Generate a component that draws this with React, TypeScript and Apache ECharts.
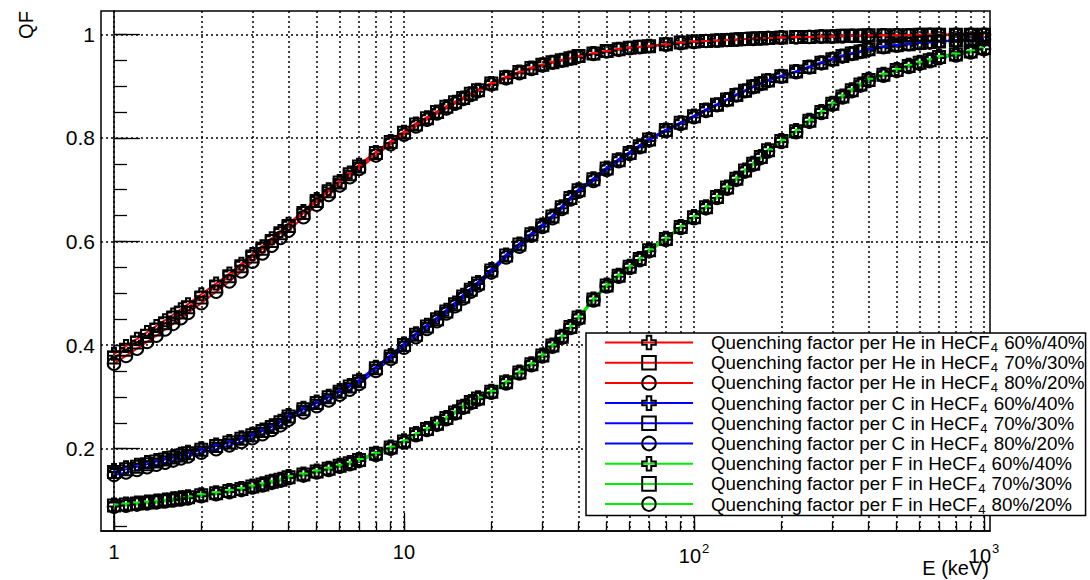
import React, { useEffect, useRef } from "react";
import * as echarts from "echarts";

// Energies (keV) of the plotted points
const energies = [
  1, 1.1, 1.2, 1.3, 1.4, 1.5, 1.6, 1.7, 1.8, 2, 2.25, 2.5, 2.75, 3, 3.25, 3.5, 3.75, 4, 4.5, 5, 5.5, 6, 6.5, 7, 8, 9,
  10, 11, 12, 13, 14, 15, 16, 17, 18, 20, 22.5, 25, 27.5, 30, 32.5, 35, 37.5, 40, 45, 50, 55, 60, 65, 70, 80, 90,
  100, 110, 120, 130, 140, 150, 160, 170, 180, 200, 225, 250, 275, 300, 325, 350, 375, 400, 450, 500, 550, 600, 650, 700, 800, 900, 1000,
];

const heQF6040 = [
  0.383, 0.398, 0.412, 0.425, 0.437, 0.448, 0.459, 0.469, 0.479, 0.498, 0.519, 0.538, 0.557, 0.576, 0.591, 0.606, 0.62, 0.634, 0.659, 0.682, 0.701, 0.717, 0.733, 0.748, 0.773, 0.794,
  0.812, 0.828, 0.84, 0.851, 0.861, 0.87, 0.878, 0.886, 0.893, 0.906, 0.918, 0.928, 0.936, 0.942, 0.947, 0.951, 0.955, 0.958, 0.964, 0.968, 0.972, 0.974, 0.976, 0.978, 0.981, 0.984,
  0.986, 0.987, 0.988, 0.989, 0.99, 0.991, 0.992, 0.993, 0.993, 0.994, 0.995, 0.995, 0.996, 0.996, 0.997, 0.997, 0.997, 0.998, 0.998, 0.998, 0.998, 0.999, 0.999, 0.999, 0.999, 0.999, 0.999,
];
const heQF7030 = [
  0.376, 0.391, 0.405, 0.418, 0.43, 0.442, 0.453, 0.463, 0.473, 0.492, 0.513, 0.533, 0.552, 0.571, 0.586, 0.601, 0.616, 0.63, 0.655, 0.678, 0.697, 0.714, 0.73, 0.745, 0.771, 0.792,
  0.81, 0.826, 0.838, 0.85, 0.86, 0.869, 0.877, 0.885, 0.892, 0.905, 0.917, 0.927, 0.935, 0.941, 0.946, 0.95, 0.954, 0.958, 0.963, 0.968, 0.971, 0.974, 0.976, 0.977, 0.981, 0.984,
  0.986, 0.987, 0.988, 0.989, 0.99, 0.991, 0.992, 0.992, 0.993, 0.994, 0.995, 0.995, 0.996, 0.996, 0.997, 0.997, 0.997, 0.998, 0.998, 0.998, 0.998, 0.999, 0.999, 0.999, 0.999, 0.999, 0.999,
];
const heQF8020 = [
  0.364, 0.379, 0.393, 0.406, 0.418, 0.43, 0.441, 0.452, 0.462, 0.481, 0.503, 0.523, 0.542, 0.561, 0.577, 0.592, 0.607, 0.621, 0.647, 0.671, 0.69, 0.708, 0.724, 0.74, 0.766, 0.788,
  0.806, 0.822, 0.835, 0.847, 0.857, 0.866, 0.875, 0.883, 0.89, 0.903, 0.915, 0.925, 0.933, 0.94, 0.945, 0.949, 0.953, 0.957, 0.962, 0.967, 0.97, 0.973, 0.975, 0.977, 0.98, 0.983,
  0.985, 0.987, 0.988, 0.989, 0.99, 0.991, 0.991, 0.992, 0.993, 0.994, 0.994, 0.995, 0.996, 0.996, 0.996, 0.997, 0.997, 0.997, 0.998, 0.998, 0.998, 0.998, 0.999, 0.999, 0.999, 0.999, 0.999,
];

const cQF6040 = [
  0.159, 0.164, 0.169, 0.174, 0.178, 0.182, 0.186, 0.19, 0.194, 0.201, 0.208, 0.215, 0.222, 0.229, 0.237, 0.245, 0.254, 0.265, 0.279, 0.291, 0.302, 0.313, 0.323, 0.333, 0.358, 0.381,
  0.403, 0.423, 0.439, 0.453, 0.468, 0.482, 0.497, 0.51, 0.522, 0.547, 0.575, 0.596, 0.616, 0.633, 0.65, 0.668, 0.686, 0.701, 0.722, 0.743, 0.759, 0.773, 0.786, 0.798, 0.816, 0.83,
  0.843, 0.855, 0.865, 0.875, 0.884, 0.892, 0.9, 0.906, 0.912, 0.92, 0.929, 0.938, 0.946, 0.953, 0.959, 0.964, 0.968, 0.972, 0.977, 0.98, 0.982, 0.984, 0.985, 0.987, 0.988, 0.99, 0.991,
];
const cQF7030 = [
  0.155, 0.16, 0.165, 0.17, 0.175, 0.179, 0.183, 0.187, 0.191, 0.198, 0.205, 0.212, 0.219, 0.226, 0.234, 0.242, 0.251, 0.262, 0.276, 0.288, 0.299, 0.31, 0.32, 0.33, 0.355, 0.378,
  0.4, 0.42, 0.436, 0.45, 0.465, 0.479, 0.494, 0.507, 0.519, 0.544, 0.573, 0.594, 0.614, 0.631, 0.648, 0.666, 0.684, 0.699, 0.72, 0.741, 0.757, 0.771, 0.784, 0.797, 0.815, 0.829,
  0.842, 0.854, 0.864, 0.874, 0.883, 0.891, 0.899, 0.905, 0.911, 0.919, 0.928, 0.937, 0.945, 0.952, 0.958, 0.963, 0.967, 0.971, 0.976, 0.979, 0.981, 0.983, 0.985, 0.986, 0.988, 0.989, 0.991,
];
const cQF8020 = [
  0.149, 0.154, 0.159, 0.164, 0.169, 0.173, 0.177, 0.181, 0.185, 0.192, 0.199, 0.206, 0.213, 0.22, 0.228, 0.236, 0.245, 0.256, 0.27, 0.282, 0.293, 0.304, 0.314, 0.325, 0.35, 0.373,
  0.395, 0.415, 0.431, 0.446, 0.461, 0.475, 0.49, 0.503, 0.515, 0.54, 0.569, 0.59, 0.611, 0.628, 0.645, 0.663, 0.681, 0.696, 0.717, 0.738, 0.755, 0.769, 0.782, 0.795, 0.813, 0.827,
  0.84, 0.852, 0.863, 0.873, 0.882, 0.89, 0.898, 0.904, 0.91, 0.918, 0.927, 0.936, 0.944, 0.951, 0.957, 0.962, 0.966, 0.97, 0.975, 0.978, 0.981, 0.983, 0.984, 0.986, 0.988, 0.989, 0.99,
];

const fQF6040 = [
  0.092, 0.094, 0.096, 0.098, 0.1, 0.102, 0.104, 0.106, 0.108, 0.112, 0.116, 0.12, 0.124, 0.129, 0.133, 0.138, 0.142, 0.147, 0.152, 0.158, 0.163, 0.169, 0.174, 0.18, 0.192, 0.204,
  0.216, 0.23, 0.24, 0.25, 0.261, 0.272, 0.283, 0.292, 0.299, 0.312, 0.33, 0.349, 0.365, 0.382, 0.401, 0.418, 0.437, 0.455, 0.49, 0.517, 0.536, 0.553, 0.568, 0.585, 0.607, 0.63,
  0.649, 0.668, 0.688, 0.706, 0.723, 0.739, 0.752, 0.765, 0.778, 0.796, 0.815, 0.835, 0.852, 0.868, 0.882, 0.894, 0.905, 0.914, 0.924, 0.933, 0.941, 0.947, 0.952, 0.958, 0.963, 0.969, 0.975,
];
const fQF7030 = [
  0.09, 0.092, 0.094, 0.096, 0.098, 0.1, 0.102, 0.104, 0.106, 0.11, 0.114, 0.118, 0.122, 0.127, 0.131, 0.136, 0.14, 0.145, 0.15, 0.156, 0.161, 0.167, 0.172, 0.178, 0.19, 0.202,
  0.214, 0.228, 0.238, 0.248, 0.259, 0.27, 0.281, 0.29, 0.297, 0.31, 0.328, 0.347, 0.363, 0.38, 0.399, 0.416, 0.435, 0.453, 0.488, 0.515, 0.534, 0.551, 0.566, 0.583, 0.605, 0.628,
  0.647, 0.666, 0.686, 0.704, 0.721, 0.737, 0.75, 0.763, 0.776, 0.794, 0.813, 0.833, 0.85, 0.866, 0.88, 0.892, 0.903, 0.912, 0.922, 0.931, 0.939, 0.945, 0.95, 0.956, 0.961, 0.967, 0.973,
];
const fQF8020 = [
  0.088, 0.09, 0.092, 0.094, 0.096, 0.098, 0.1, 0.102, 0.104, 0.108, 0.112, 0.116, 0.12, 0.125, 0.129, 0.134, 0.138, 0.143, 0.148, 0.154, 0.159, 0.165, 0.17, 0.176, 0.188, 0.2,
  0.212, 0.226, 0.236, 0.246, 0.257, 0.268, 0.279, 0.288, 0.295, 0.308, 0.326, 0.345, 0.361, 0.378, 0.397, 0.414, 0.433, 0.451, 0.486, 0.513, 0.532, 0.549, 0.564, 0.581, 0.603, 0.626,
  0.645, 0.664, 0.684, 0.702, 0.719, 0.735, 0.748, 0.761, 0.774, 0.792, 0.811, 0.831, 0.848, 0.864, 0.878, 0.89, 0.901, 0.91, 0.92, 0.929, 0.937, 0.943, 0.948, 0.954, 0.959, 0.965, 0.971,
];

// Axis ticks
const xMajorTicksE = [1, 10, 100, 1000];
const xMinorTicksE = [2, 3, 4, 5, 6, 7, 8, 9, 20, 30, 40, 50, 60, 70, 80, 90, 200, 300, 400, 500, 600, 700, 800, 900];
const xTickLabels = ["1", "10", "{b|10}{s|2}", "{b|10}{s|3}"];
const yMajorTicks = [0.2, 0.4, 0.6, 0.8, 1.0];
const yMinorTicks = [0.05, 0.1, 0.15, 0.2, 0.25, 0.3, 0.35, 0.4, 0.45, 0.5, 0.55, 0.6, 0.65, 0.7, 0.75, 0.8, 0.85, 0.9, 0.95, 1.0];

const mixtures = ["60%/40%", "70%/30%", "80%/20%"];
const elements = ["He", "C", "F"];
const elementColors = ["#ff0000", "#0000ff", "#00ee00"];
const valueTable = [
  [heQF6040, heQF7030, heQF8020],
  [cQF6040, cQF7030, cQF8020],
  [fQF6040, fQF7030, fQF8020],
];

const CROSS = "path://M4,0L8,0L8,4L12,4L12,8L8,8L8,12L4,12L4,8L0,8L0,4L4,4Z";
const symbols = [CROSS, "rect", "circle"];
const FONT = '"Liberation Sans", Arial, Helvetica, sans-serif';

export default function App() {
  const ref = useRef<HTMLDivElement>(null);

  useEffect(() => {
    document.body.style.margin = "0";
    const chart = echarts.init(ref.current as HTMLDivElement, null, { renderer: "svg" });

    const series: any[] = [];
    const names: string[] = [];
    elements.forEach((el, ei) => {
      mixtures.forEach((mx, mi) => {
        const name = `Quenching factor per ${el} in HeCF4 ${mx}`;
        names.push(name);
        const vals = valueTable[ei][mi];
        series.push({
          type: "line",
          name,
          xAxisIndex: 0,
          yAxisIndex: 0,
          data: energies.map((e, i) => [Math.log10(e), vals[i]]),
          symbol: symbols[mi],
          symbolSize: mi === 2 ? 12.5 : 12,
          showSymbol: true,
          lineStyle: { color: elementColors[ei], width: 2 },
          itemStyle: { color: "rgba(0,0,0,0)", borderColor: "#000", borderWidth: 2 },
          emphasis: { disabled: true },
          silent: true,
          z: 3,
        });
      });
    });

    const logMin = -0.0448;
    const logMax = 3.0207;
    const xMajor = xMajorTicksE.map((e) => Math.log10(e));
    const xAll = xMajorTicksE.concat(xMinorTicksE).map((e) => Math.log10(e));
    const gridLine = { color: "#000", width: 1.5, type: [2, 3] };

    const option: any = {
      animation: false,
      textStyle: { fontFamily: FONT },
      grid: {
        left: 101,
        top: 11,
        right: 100,
        bottom: 49,
        show: true,
        borderColor: "#000",
        borderWidth: 1.5,
        backgroundColor: "transparent",
        containLabel: false,
      },
      xAxis: [
        {
          type: "value",
          min: logMin,
          max: logMax,
          position: "bottom",
          axisLine: { show: true, lineStyle: { color: "#000", width: 1.5 } },
          axisTick: { show: true, inside: true, length: 18, customValues: xMajor, lineStyle: { color: "#000", width: 1.3 } },
          axisLabel: {
            show: true,
            customValues: xMajor,
            margin: 11,
            color: "#000",
            fontSize: 20,
            fontFamily: FONT,
            formatter: (v: number) => xTickLabels[Math.round(v)],
            rich: {
              b: { fontSize: 20, fontFamily: FONT, color: "#000" },
              s: { fontSize: 13, fontFamily: FONT, color: "#000", padding: [0, 0, 14, 1] },
            },
          },
          splitLine: { show: false },
        },
        {
          type: "value",
          min: logMin,
          max: logMax,
          position: "bottom",
          axisLine: { show: false },
          axisTick: { show: true, inside: true, length: 9, customValues: xAll, lineStyle: { color: "#000", width: 1.3 } },
          axisLabel: { show: false },
          splitLine: { show: true, lineStyle: gridLine },
        },
      ],
      yAxis: [
        {
          type: "value",
          min: 0.041,
          max: 1.045,
          position: "left",
          axisLine: { show: true, lineStyle: { color: "#000", width: 1.5 } },
          axisTick: { show: true, inside: true, length: 26, customValues: yMajorTicks, lineStyle: { color: "#000", width: 1.3 } },
          axisLabel: {
            show: true,
            customValues: yMajorTicks,
            margin: 6,
            color: "#000",
            fontSize: 21,
            fontFamily: FONT,
            formatter: (v: number) => String(Math.round(v * 10) / 10),
          },
          splitLine: { show: true, lineStyle: gridLine },
        },
        {
          type: "value",
          min: 0.041,
          max: 1.045,
          position: "left",
          axisLine: { show: false },
          axisTick: { show: true, inside: true, length: 13, customValues: yMinorTicks, lineStyle: { color: "#000", width: 1.3 } },
          axisLabel: { show: false },
          splitLine: { show: false },
        },
      ],
      legend: {
        data: names,
        orient: "vertical",
        left: 586,
        top: 333,
        padding: [0, 1, 0, 18],
        itemWidth: 88,
        itemHeight: 17,
        itemGap: -0.8,
        backgroundColor: "#fff",
        borderColor: "#000",
        borderWidth: 1.5,
        borderRadius: 0,
        selectedMode: false,
        textStyle: {
          color: "#000",
          fontSize: 18.8,
          fontFamily: FONT,
          rich: {
            t0: { fontSize: 18.8, fontFamily: FONT, color: "#000", padding: [0, 0, 0, 13] },
            t: { fontSize: 18.8, fontFamily: FONT, color: "#000" },
            sub: { fontSize: 13, fontFamily: FONT, color: "#000", padding: [10, 1, 0, 1] },
          },
        },
        formatter: (name: string) => {
          const parts = name.split("HeCF4");
          return `{t0|${parts[0]}HeCF}{sub|4}{t|${parts[1]}}`;
        },
      },
      graphic: [
        {
          type: "text",
          x: 26,
          y: 25,
          rotation: Math.PI / 2,
          style: {
            text: "QF",
            font: `20px ${FONT}`,
            fill: "#000",
            align: "center",
            verticalAlign: "middle",
          },
        },
        {
          type: "text",
          x: 989,
          y: 578,
          style: {
            text: "E (keV)",
            font: `20px ${FONT}`,
            fill: "#000",
            align: "right",
            verticalAlign: "bottom",
          },
        },
      ],
      series,
    };

    chart.setOption(option);
    return () => chart.dispose();
  }, []);

  return <div ref={ref} style={{ width: 1090, height: 580 }} />;
}
